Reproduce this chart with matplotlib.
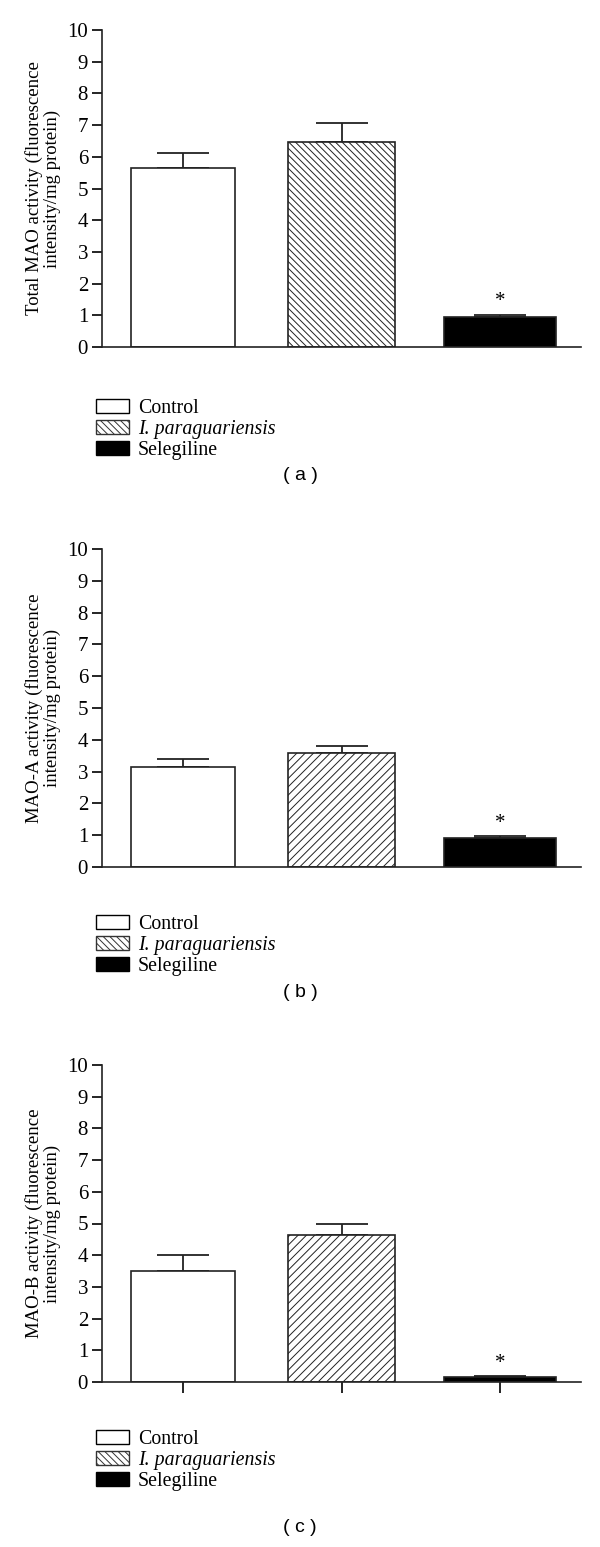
import matplotlib
matplotlib.use("Agg")
import matplotlib.pyplot as plt
from matplotlib.patches import Patch

plt.rcParams['font.family'] = ['Liberation Serif', 'DejaVu Serif']
plt.rcParams['hatch.linewidth'] = 0.7

groups = ["Control", "I. paraguariensis", "Selegiline"]
panel_letters = ["a", "b", "c"]
ylabels = ["Total MAO activity (fluorescence\nintensity/mg protein)",
           "MAO-A activity (fluorescence\nintensity/mg protein)",
           "MAO-B activity (fluorescence\nintensity/mg protein)"]
means_a = [5.65, 6.48, 0.95]
errs_a = [0.48, 0.60, 0.07]
means_b = [3.15, 3.60, 0.90]
errs_b = [0.25, 0.22, 0.07]
means_c = [3.50, 4.63, 0.15]
errs_c = [0.50, 0.37, 0.03]
yticks = list(range(0, 11))

means = [means_a, means_b, means_c]
errs = [errs_a, errs_b, errs_c]

W, H = 600, 1547
fig = plt.figure(figsize=(W / 100, H / 100), dpi=100)

# axes boxes in pixels: (top, bottom)
boxes = [(30, 347), (549, 867), (1065, 1382)]
left_px, right_px = 102, 581
bar_hatches = ['\\' * 5, '/' * 4, '/' * 4]
legend_tops = [399, 915, 1430]
caption_y = [476, 992, 1528]
widths = [0.66, 0.67, 0.71]

for i in range(3):
    top, bot = boxes[i]
    ax = fig.add_axes([left_px / W, 1 - bot / H, (right_px - left_px) / W, (bot - top) / H])
    x = range(3)
    fills = ['white', 'white', 'black']
    hatches = [None, bar_hatches[i], None]
    for j in x:
        ax.bar(j, means[i][j], width=widths[j], color=fills[j], edgecolor='#222222',
               hatch=hatches[j], linewidth=1.2, zorder=2)
        ax.errorbar(j, means[i][j], yerr=[[0], [errs[i][j]]], fmt='none',
                    ecolor='#222222', elinewidth=1.3, capsize=19, capthick=1.3, zorder=1)
    ax.text(2, means[i][2] + errs[i][2] + 0.1, '*', ha='center', va='bottom', fontsize=15)
    ax.set_xlim(-0.51, 2.51)
    ax.set_ylim(0, 10)
    ax.set_yticks(yticks)
    ax.tick_params(axis='y', direction='out', length=7, width=1.2, labelsize=15, pad=3)
    if i == 2:
        ax.set_xticks(list(x))
        ax.tick_params(axis='x', direction='out', length=8, width=1.2)
        ax.set_xticklabels([])
    else:
        ax.set_xticks([])
    for s in ['top', 'right']:
        ax.spines[s].set_visible(False)
    for s in ['left', 'bottom']:
        ax.spines[s].set_linewidth(1.2)
        ax.spines[s].set_color('#222222')
    ax.set_ylabel(ylabels[i], fontsize=13.5, linespacing=1.05)
    ax.yaxis.set_label_coords(-0.085, 0.5)

    handles = [Patch(facecolor='white', edgecolor='black', linewidth=1.0),
               Patch(facecolor='white', edgecolor='#333333', hatch='\\' * 5, linewidth=1.0),
               Patch(facecolor='black', edgecolor='black', linewidth=1.0)]
    leg = fig.legend(handles, groups, loc='upper left',
                     bbox_to_anchor=(96 / W, 1 - legend_tops[i] / H),
                     frameon=False, fontsize=14.3, handlelength=1.65, handleheight=0.65,
                     handletextpad=0.45, labelspacing=0.1, borderpad=0, borderaxespad=0)
    leg.get_texts()[1].set_fontstyle('italic')
    fig.text(300 / W, 1 - caption_y[i] / H, f"( {panel_letters[i]} )", ha='center', va='center',
             fontsize=14, family=['Liberation Sans', 'DejaVu Sans'])

fig.savefig("out.png", dpi=100)
